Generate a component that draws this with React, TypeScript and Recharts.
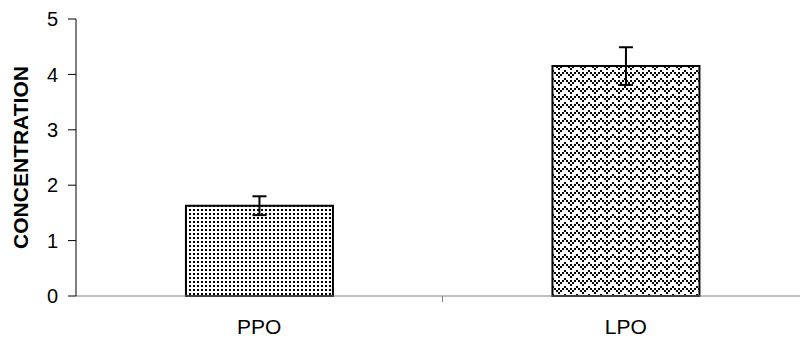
import { BarChart, Bar, XAxis, YAxis, ErrorBar, Cell } from 'recharts';

const categories = ['PPO', 'LPO'];
const values = [1.63, 4.15];
const errors = [0.17, 0.34];
const yTicks = [0, 1, 2, 3, 4, 5];

const data = categories.map((name, i) => ({ name, value: values[i], err: errors[i] }));
const fills = ['url(#dots)', 'url(#zigzag)'];

const FONT = '"Liberation Sans", Arial, sans-serif';

const CatTick = (props: any) => {
    const { x, y, payload, index } = props;
    return (
        <g>
            {index === 0 && (
                <line x1={x + payload.offset} x2={x + payload.offset} y1={y} y2={y + 6} stroke="#808080" />
            )}
            <text x={x} y={y + 38} textAnchor="middle" fontSize={21} fontFamily={FONT} fill="#000">
                {payload.value}
            </text>
        </g>
    );
};

export default function App() {
    return (
        <div style={{ position: 'fixed', left: 0, top: 0, width: 800, height: 339, overflow: 'hidden', background: '#fff' }}>
            <BarChart width={809} height={339} data={data} margin={{ top: 19, right: 0, left: 0, bottom: 0 }} barCategoryGap="30%">
                <defs>
                    <pattern id="dots" width={4} height={4} patternUnits="userSpaceOnUse">
                        <rect width={4} height={4} fill="#fff" />
                        <rect x={1} y={1} width={2} height={2} fill="#000" />
                    </pattern>
                    <pattern id="zigzag" width={12} height={8} patternUnits="userSpaceOnUse">
                        <rect width={12} height={8} fill="#fff" />
                        <path d="M0 0h2v2h2v2h2v2h2v-2h2v-2h2v-2h-2v2h-2v2h-2v-2h-2v-2h-2z" fill="#000" />
                        <rect x={0} y={6} width={2} height={2} fill="#000" />
                        <rect x={6} y={0} width={2} height={2} fill="#000" />
                    </pattern>
                </defs>
                <XAxis
                    dataKey="name"
                    height={43}
                    stroke="#808080"
                    tickLine={false}
                    tickSize={0}
                    tickMargin={0}
                    tick={<CatTick />}
                />
                <YAxis
                    width={76}
                    domain={[0, 5]}
                    ticks={yTicks}
                    stroke="#000"
                    tickSize={8}
                    tickMargin={10}
                    tick={{ fill: '#000', fontSize: 20, fontFamily: FONT }}
                    label={{
                        value: 'CONCENTRATION',
                        angle: -90,
                        position: 'insideLeft',
                        offset: 21,
                        style: { textAnchor: 'middle', fontWeight: 'bold', fontSize: 21, fontFamily: FONT, fill: '#000' },
                    }}
                />
                <Bar dataKey="value" stroke="#000" strokeWidth={2} isAnimationActive={false}>
                    {data.map((entry, index) => (
                        <Cell key={`cell-${index}`} fill={fills[index]} />
                    ))}
                    <ErrorBar dataKey="err" width={7} stroke="#000" strokeWidth={2} isAnimationActive={false} />
                </Bar>
            </BarChart>
        </div>
    );
}
